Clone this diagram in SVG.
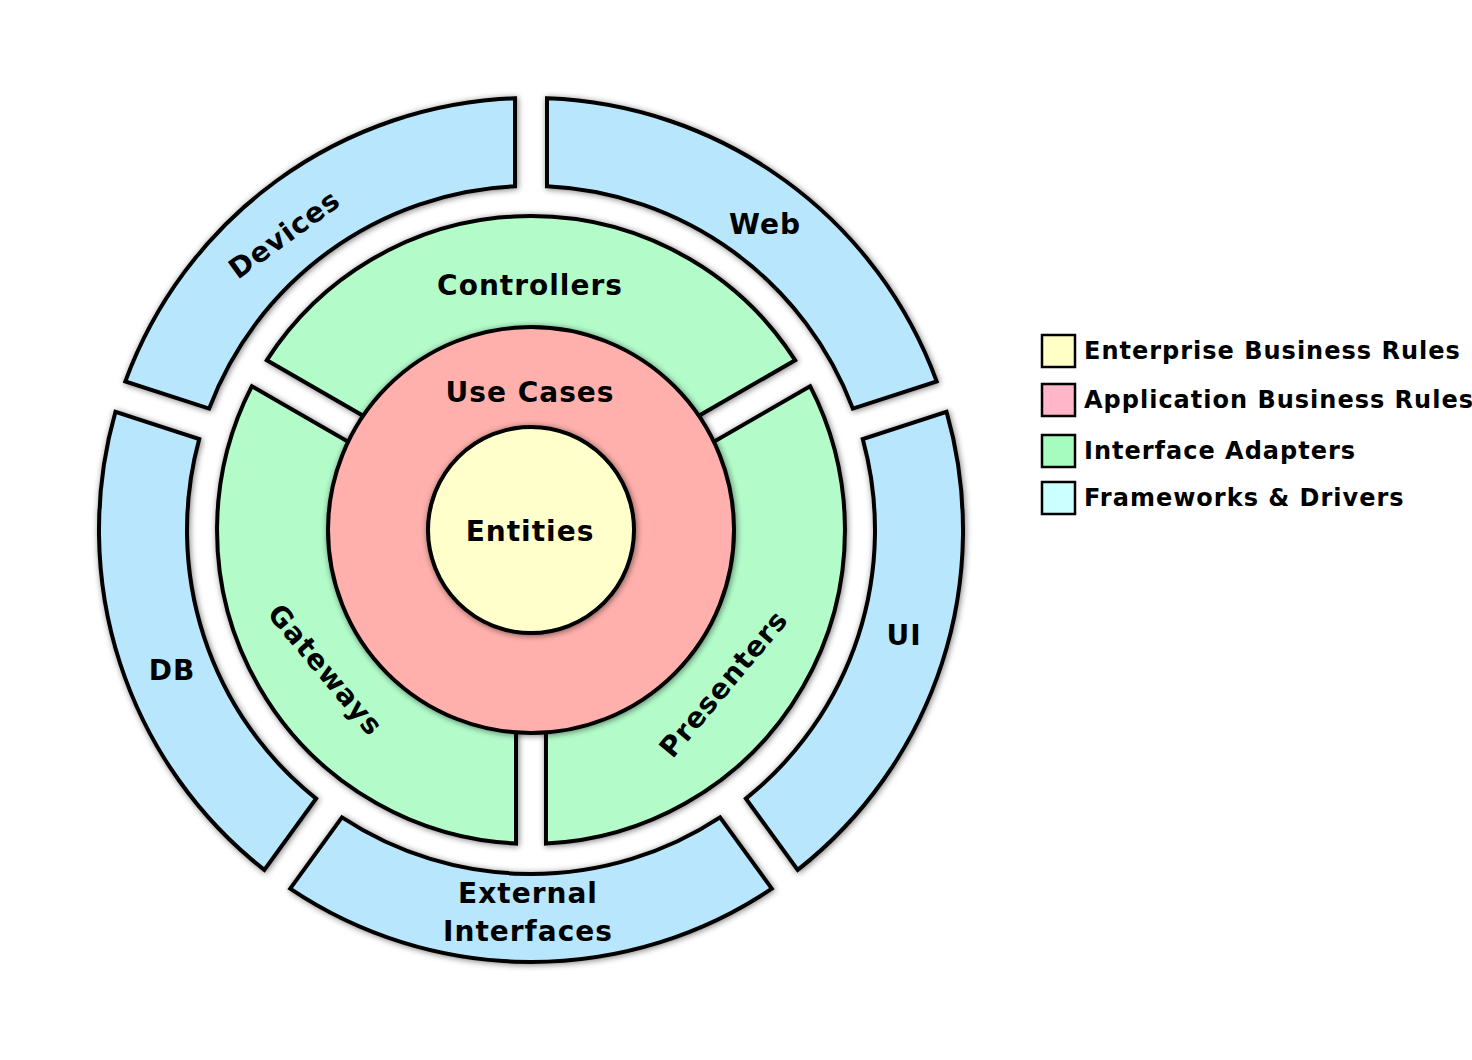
<svg xmlns="http://www.w3.org/2000/svg" width="1472" height="1060" viewBox="0 0 1472 1060">
<style>
.s{stroke:#000;stroke-width:4;stroke-linejoin:miter;filter:url(#sh)}
.b{fill:#b8e6fc}.g{fill:#b3fcca}.p{fill:#ffb0ac}.y{fill:#ffffcc}
text{font-family:"DejaVu Sans",sans-serif;font-weight:bold;fill:#000;text-anchor:middle}
.t{font-size:28px;letter-spacing:1px}
.l{font-size:24px;letter-spacing:1px;text-anchor:start}
.lb{stroke:#000;stroke-width:2.5}
</style>
<defs>
<filter id="sh" x="-20%" y="-20%" width="140%" height="140%">
<feGaussianBlur in="SourceAlpha" stdDeviation="3"/>
<feOffset dx="1" dy="1"/>
<feComponentTransfer><feFuncA type="linear" slope="0.5"/></feComponentTransfer>
<feMerge><feMergeNode/><feMergeNode in="SourceGraphic"/></feMerge>
</filter>
</defs>
<rect width="1472" height="1060" fill="#fff"/>
<g id="web"><path class="s b" d="M 936.65 381.38 A 432 432 0 0 0 547 98.3 L 547 186.37 A 344 344 0 0 1 852.89 408.6 Z"/><text class="t" x="765" y="234">Web</text></g>
<g id="devices"><path class="s b" d="M 515 98.3 A 432 432 0 0 0 125.35 381.38 L 209.11 408.6 A 344 344 0 0 1 515 186.37 Z"/><text class="t" transform="translate(290,242) rotate(-36)">Devices</text></g>
<g id="db"><path class="s b" d="M 115.47 411.82 A 432 432 0 0 0 264.31 869.85 L 316.07 798.59 A 344 344 0 0 1 199.23 439.04 Z"/><text class="t" x="172" y="680">DB</text></g>
<g id="external"><path class="s b" d="M 290.19 888.65 A 432 432 0 0 0 771.81 888.65 L 720.05 817.39 A 344 344 0 0 1 341.95 817.39 Z"/><text class="t" x="528" y="903">External</text><text class="t" x="528" y="941">Interfaces</text></g>
<g id="ui"><path class="s b" d="M 797.69 869.85 A 432 432 0 0 0 946.53 411.82 L 862.77 439.04 A 344 344 0 0 1 745.93 798.59 Z"/><text class="t" x="904" y="645">UI</text></g>
<g id="controllers"><path class="s g" d="M 795.1 360.2 A 314 314 0 0 0 266.9 360.2 L 365.8 417.3 A 200 200 0 0 1 696.2 417.3 Z"/><text class="t" x="530" y="295">Controllers</text></g>
<g id="gateways"><path class="s g" d="M 251.9 386.2 A 314 314 0 0 0 516 843.6 L 516 729.4 A 200 200 0 0 1 350.8 443.3 Z"/><text class="t" transform="translate(318,676) rotate(50)">Gateways</text></g>
<g id="presenters"><path class="s g" d="M 546 843.6 A 314 314 0 0 0 810.1 386.2 L 711.2 443.3 A 200 200 0 0 1 546 729.4 Z"/><text class="t" transform="translate(731,690) rotate(-50)">Presenters</text></g>
<g id="usecases"><circle class="s p" cx="531" cy="530" r="203"/><text class="t" x="530" y="402">Use Cases</text></g>
<g id="entities"><circle class="s y" cx="531" cy="530" r="103"/><text class="t" x="530" y="541">Entities</text></g>
<g id="legend">
<rect class="lb" x="1042" y="335" width="33" height="32" fill="#ffffc6"/><text class="l" x="1084" y="359">Enterprise Business Rules</text>
<rect class="lb" x="1042" y="384" width="33" height="32" fill="#ffb6c8"/><text class="l" x="1084" y="408">Application Business Rules</text>
<rect class="lb" x="1042" y="435" width="33" height="32" fill="#a6fcbe"/><text class="l" x="1084" y="459">Interface Adapters</text>
<rect class="lb" x="1042" y="482" width="33" height="32" fill="#ccffff"/><text class="l" x="1084" y="506">Frameworks &amp; Drivers</text>
</g>
<g id="connectors"/>
</svg>
